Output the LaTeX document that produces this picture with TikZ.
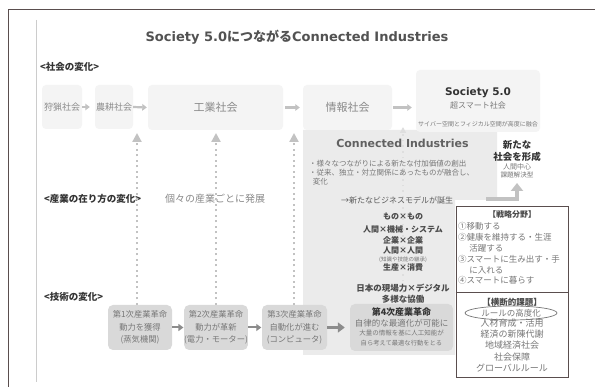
\documentclass[tikz,border=0pt]{standalone}
\usepackage{fontspec}
\setmainfont{Noto Sans CJK JP}
\newfontfamily\dv{DejaVu Sans}
\usetikzlibrary{arrows.meta,shapes.geometric}
\definecolor{frame}{HTML}{5A4E4E}
\definecolor{socfill}{HTML}{F4F4F4}
\definecolor{cifill}{HTML}{EBEBEB}
\definecolor{techfill}{HTML}{D9D9D9}
\definecolor{txt}{HTML}{777777}
\definecolor{ltxt}{HTML}{8A8A8A}
\definecolor{dark}{HTML}{333333}
\definecolor{mid}{HTML}{4A4A4A}
\definecolor{arr}{HTML}{C2C2C2}
\definecolor{tarr}{HTML}{8C8C8C}
\newcommand{\fsz}[1]{\fontsize{#1}{#1}\selectfont}
\tikzset{
  socbox/.style={fill=socfill, rounded corners=4pt, inner sep=0pt, text=ltxt},
  techbox/.style={fill=techfill, rounded corners=5pt, inner sep=0pt, align=center, text=txt},
  txtnode/.style={inner sep=0pt, text=txt},
  hdr/.style={inner sep=0pt, text=dark, font=\fsz{9.5}\bfseries},
  stack/.style={inner sep=0pt, text=mid, font=\fsz{8}\bfseries},
  sarrow/.style={draw=arr, line width=2.2pt, -{Triangle[length=4.5pt,width=6.5pt]}},
  tarrow/.style={draw=tarr, line width=2pt, -{Triangle[length=5pt,width=7pt]}},
  dotarrow/.style={draw=arr, line width=2.2pt, dash pattern=on 2pt off 3.5pt, -{Triangle[length=9pt,width=9pt]}},
  fdotarrow/.style={draw=black!13, line width=1.6pt, dash pattern=on 1.6pt off 4pt, -{Triangle[length=6pt,width=6pt]}},
  bigarrow/.style={draw=arr, line width=4pt, -{Triangle[length=8pt,width=12pt]}},
}
\begin{document}
\begin{tikzpicture}[x=1pt,y=-1pt]
\useasboundingbox (0,0) rectangle (595,387);
\fill[white] (0,0) rectangle (595,387);
% frame
\draw[frame, line width=1pt] (8,387) -- (8,10) -- (595,10);
\draw[black!20, line width=0.6pt] (36,20) -- (36,382);
% title
\node[inner sep=0pt, text=black!68] (title) at (297,37) {\fontsize{13}{13}\selectfont\bfseries{\dv Society 5.0}につながる{\dv Connected Industries}};
% Connected Industries region
\fill[cifill] (303,130) -- (497,130) -- (497,200) -- (455,200) -- (455,355) -- (303,355) -- cycle;
% row labels
\node[hdr, anchor=west] (lab1) at (40,67) {<社会の変化>};
\node[hdr, anchor=west] (lab2) at (44,199) {<産業の在り方の変化>};
\node[hdr, anchor=west] (lab3) at (44,297) {<技術の変化>};
% society boxes
\node[socbox, minimum width=40pt, minimum height=44pt, font=\fsz{9}] (hunt) at (62,107) {狩猟社会};
\node[socbox, minimum width=38pt, minimum height=44pt, font=\fsz{9}] (agri) at (114,107) {農耕社会};
\node[socbox, minimum width=135pt, minimum height=45pt, font=\fsz{11}] (ind) at (215.5,107.5) {工業社会};
\node[socbox, minimum width=89pt, minimum height=45pt, font=\fsz{11}] (info) at (347.5,107.5) {情報社会};
\node[socbox, minimum width=124pt, minimum height=62pt] (s50) at (478,101) {};
\node[inner sep=0pt, text=dark, font=\fsz{10.5}\dv\bfseries] (s50a) at (478,93) {Society 5.0};
\node[txtnode, font=\fsz{8}] (s50b) at (478,105.5) {超スマート社会};
\node[txtnode, font=\fsz{6}] (s50c) at (478,124) {サイバー空間とフィジカル空間が高度に融合};
\draw[sarrow] (hunt.east) -- ([xshift=-5pt]agri.west);
\draw[sarrow] (agri.east) -- ([xshift=-1pt]ind.west);
\draw[sarrow] ([xshift=2pt]ind.east) -- ([xshift=-3pt]info.west);
\draw[sarrow] ([xshift=1pt]info.east) -- ([xshift=-4pt]info.east -| s50.west);
% industry row
\node[inner sep=0pt, text=ltxt, font=\fsz{10}] (indiv) at (215,199) {個々の産業ごとに発展};
% tech boxes
\node[techbox, minimum width=64pt, minimum height=45pt, font={\fontsize{8.3}{12.5}\selectfont}] (t1) at (140,327.5) {第1次産業革命\\動力を獲得\\(蒸気機関)};
\node[techbox, minimum width=62pt, minimum height=45pt, font={\fontsize{8.3}{12.5}\selectfont}] (t2) at (216,327.5) {第2次産業革命\\動力が革新\\(電力・モーター)};
\node[techbox, minimum width=65pt, minimum height=45pt, font={\fontsize{8.3}{12.5}\selectfont}] (t3) at (294.5,327.5) {第3次産業革命\\自動化が進む\\(コンピュータ)};
\node[techbox, minimum width=103pt, minimum height=47pt] (t4) at (401.5,327.5) {};
\node[inner sep=0pt, text=dark, font=\fsz{9}\bfseries] (t4a) at (401.5,312) {第4次産業革命};
\node[txtnode, font=\fsz{8.5}] (t4b) at (401.5,323) {自律的な最適化が可能に};
\node[txtnode, font=\fsz{6.5}] (t4c) at (401.5,333.5) {大量の情報を基に人工知能が};
\node[txtnode, font=\fsz{6.3}] (t4d) at (401.5,343) {自ら考えて最適な行動をとる};
\draw[tarrow] (t1.east) -- ([xshift=-0.5pt]t2.west);
\draw[tarrow] (t2.east) -- ([xshift=-0.5pt]t3.west);
\draw[tarrow, line width=3pt, -{Triangle[length=7pt,width=10pt]}] (t3.east) -- ([xshift=-5pt]t4.west);
% dotted vertical arrows
\coordinate (d1) at (137,133);
\coordinate (d2) at (216,133);
\coordinate (d3) at (294,133);
\coordinate (d4) at (403,127);
\draw[dotarrow] (t1.north -| d1) -- (d1);
\draw[dotarrow] (t2.north -| d2) -- (d2);
\draw[dotarrow] (t3.north -| d3) -- (d3);
\draw[fdotarrow] (t4.north -| d4) -- (d4);
% Connected Industries texts
\node[inner sep=0pt, text=black!62, font=\fsz{11}\dv\bfseries] (ci) at (402.5,143) {Connected Industries};
\node[txtnode, anchor=north west, align=left, font={\fontsize{7.5}{9}\selectfont}] (bul) at (309,160) {・様々なつながりによる新たな付加価値の創出\\・従来、独立・対立関係にあったものが融合し、\\\hspace*{0.5em}変化};
\node[txtnode, text=black!65, font=\fsz{8}] (bm) at (397,200) {→新たなビジネスモデルが誕生};
\node[stack] (m1) at (403,217) {もの×もの};
\node[stack] (m2) at (403,229) {人間×機械・システム};
\node[stack] (m3) at (403,240) {企業×企業};
\node[stack] (m4) at (403,251) {人間×人間};
\node[txtnode, font=\fsz{5.5}] (m5) at (403,259.5) {(知識や技能の継承)};
\node[stack] (m6) at (403,267) {生産×消費};
\node[stack, font=\fsz{8.5}\bfseries] (jp1) at (403,288) {日本の現場力×デジタル};
\node[stack, font=\fsz{8.5}\bfseries] (jp2) at (403,299) {多様な協働};
% new society
\node[inner sep=0pt, text=dark, font=\fsz{9.5}\bfseries] (ns1) at (517,145) {新たな};
\node[inner sep=0pt, text=dark, font=\fsz{9.5}\bfseries] (ns2) at (517,157) {社会を形成};
\node[txtnode, font=\fsz{7}] (ns3) at (517,167) {人間中心};
\node[txtnode, font=\fsz{6.6}] (ns4) at (517,175.5) {課題解決型};
\coordinate (ea) at (486,199);
\coordinate (nsb) at (517,183);
\draw[bigarrow] (ea) -| (nsb);
% strategy box
\node[draw=frame, line width=1pt, fill=white, minimum width=112pt, minimum height=171pt, inner sep=0pt] (strat) at (512,292.5) {};
\coordinate (divy) at (0,293);
\draw[frame, line width=1pt] (strat.west |- divy) -- (strat.east |- divy);
\node[inner sep=0pt, text=mid, font=\fsz{8}\bfseries] (sh1) at (512,214) {【戦略分野】};
\node[txtnode, anchor=north west, align=left, font={\fontsize{8.5}{10.8}\selectfont}] (sl) at (458,222.5) {①移動する\\②健康を維持する・生涯\\\hspace*{1.3em}活躍する\\③スマートに生み出す・手\\\hspace*{1.3em}に入れる\\④スマートに暮らす};
\node[inner sep=0pt, text=mid, font=\fsz{8.5}\bfseries] (sh2) at (512,302) {【横断的課題】};
\node[ellipse, draw=txt, line width=0.7pt, minimum width=92pt, minimum height=14pt, inner sep=0pt, text=txt, font=\fsz{8.5}] (rule) at (511,313) {ルールの高度化};
\node[txtnode, align=center, anchor=north, font={\fontsize{9}{11.3}\selectfont}] (cross) at (512,318.5) {人材育成・活用\\経済の新陳代謝\\地域経済社会\\社会保障\\グローバルルール};
\end{tikzpicture}
\end{document}
